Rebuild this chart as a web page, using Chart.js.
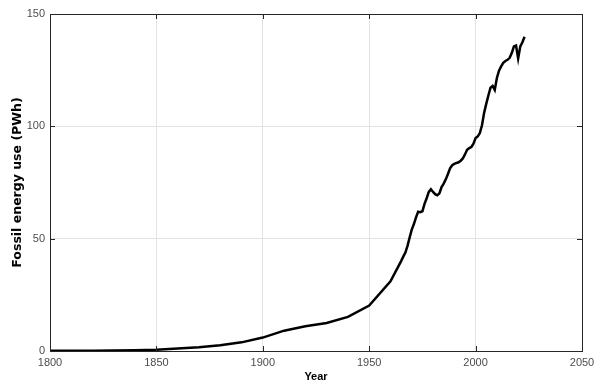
<!DOCTYPE html>
<html>
<head>
<meta charset="utf-8">
<script src="https://cdn.jsdelivr.net/npm/chart.js@4"></script>
<style>
html,body{margin:0;padding:0;background:#fff;}
#wrap{width:605px;height:389px;}
</style>
</head>
<body>
<div id="wrap"><canvas id="c" width="605" height="389"></canvas></div>
<script>
// Data (PWh)
const years = [1800,1810,1820,1830,1840,1850,1860,1870,1880,1890,1900,1910,1920,1930,1940,1950,1960,
  1965,1966,1967,1968,1969,1970,1971,1972,1973,1974,1975,1976,1977,1978,1979,1980,1981,1982,1983,1984,
  1985,1986,1987,1988,1989,1990,1991,1992,1993,1994,1995,1996,1997,1998,1999,2000,2001,2002,2003,2004,
  2005,2006,2007,2008,2009,2010,2011,2012,2013,2014,2015,2016,2017,2018,2019,2020,2021,2022,2023];
const fossilPWh = [0.10,0.13,0.15,0.26,0.36,0.57,1.06,1.64,2.54,3.85,5.97,9.05,11.0,12.5,15.2,20.2,31.0,
  40.0,42.0,43.8,46.8,50.5,54.0,56.5,59.5,62.0,61.8,62.2,65.5,68.0,70.8,72.0,70.8,69.8,69.3,70.2,73.0,
  74.5,76.4,78.8,81.3,82.7,83.3,83.7,84.0,84.7,85.7,87.5,89.6,90.3,90.8,92.3,94.8,95.5,97.0,100.5,106.0,
  110.0,113.7,117.2,118.0,116.2,121.5,124.8,126.7,128.3,129.1,129.6,130.5,132.6,135.6,136.0,130.2,135.6,137.4,139.9];
const xTicks = [1800,1850,1900,1950,2000,2050];
const yTicks = [0,50,100,150];

const points = years.map((y,i)=>({x:y, y:fossilPWh[i]}));

const boxPlugin = {
  id:'box',
  afterDraw(chart){
    const {ctx, chartArea:a, scales:{x,y}} = chart;
    ctx.save();
    ctx.strokeStyle = '#262626';
    ctx.lineWidth = 1;
    ctx.beginPath();
    xTicks.forEach(v=>{
      const px = Math.round(x.getPixelForValue(v))+0.5;
      ctx.moveTo(px, a.bottom); ctx.lineTo(px, a.bottom-5);
      ctx.moveTo(px, a.top); ctx.lineTo(px, a.top+5);
    });
    yTicks.forEach(v=>{
      const py = Math.round(y.getPixelForValue(v))+0.5;
      ctx.moveTo(a.left, py); ctx.lineTo(a.left+5, py);
      ctx.moveTo(a.right, py); ctx.lineTo(a.right-5, py);
    });
    ctx.stroke();
    ctx.strokeRect(Math.round(a.left)+0.5, Math.round(a.top)+0.5, Math.round(a.right-a.left), Math.round(a.bottom-a.top));
    ctx.restore();
  }
};

new Chart(document.getElementById('c'), {
  type:'line',
  data:{datasets:[{data:points, borderColor:'#000', borderWidth:2.5, pointRadius:0, tension:0, fill:false}]},
  options:{
    responsive:false,
    animation:false,
    layout:{padding:{left:0,top:14,right:23,bottom:0}},
    plugins:{legend:{display:false}, tooltip:{enabled:false}},
    scales:{
      x:{type:'linear', min:1800, max:2050,
        afterBuildTicks:s=>{s.ticks = xTicks.map(v=>({value:v}));},
        afterFit:s=>{s.height = 38;},
        grid:{color:'#e3e3e3', drawTicks:false},
        border:{display:false},
        ticks:{padding:5, color:'#4d4d4d', font:{family:'Liberation Sans, Arial', size:11}, maxRotation:0, callback:v=>String(v)},
        title:{display:true, text:'Year', color:'#000', font:{family:'Liberation Sans, Arial', size:11, weight:'bold'}, padding:{top:0,bottom:5}}
      },
      y:{min:0, max:150,
        afterBuildTicks:s=>{s.ticks = yTicks.map(v=>({value:v}));},
        afterFit:s=>{s.width = 50;},
        grid:{color:'#e3e3e3', drawTicks:false},
        border:{display:false},
        ticks:{padding:5, color:'#4d4d4d', font:{family:'Liberation Sans, Arial', size:11}, callback:v=>String(v)},
        title:{display:true, text:'Fossil energy use (PWh)', color:'#000', font:{family:'DejaVu Sans', size:12.5, weight:'bold'}, padding:{top:10,bottom:0}}
      }
    }
  },
  plugins:[boxPlugin]
});
</script>
</body>
</html>
